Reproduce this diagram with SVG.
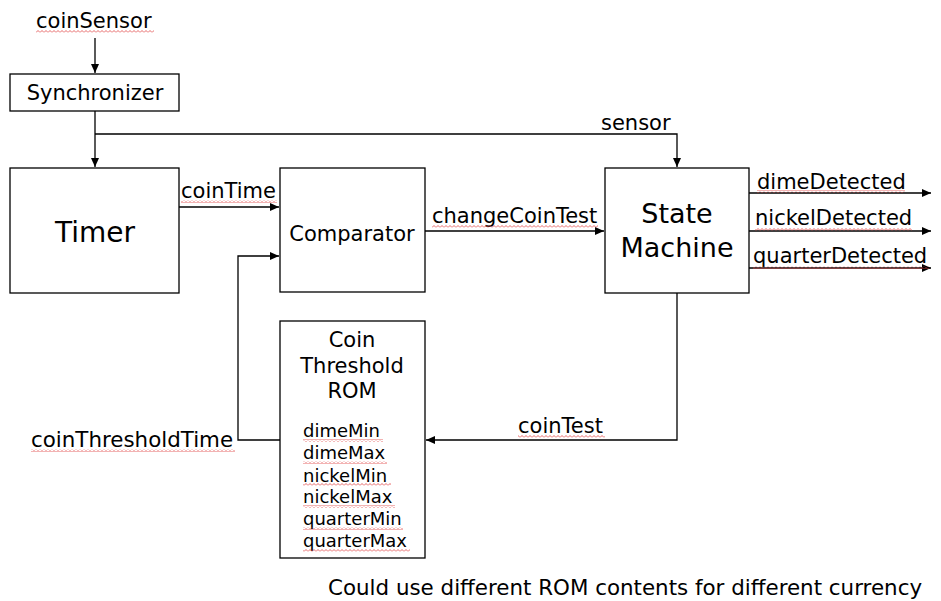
<svg xmlns="http://www.w3.org/2000/svg" width="941" height="601" viewBox="0 0 941 601">
<style>
text{font-family:"DejaVu Sans","Verdana",sans-serif;fill:#000}
.l{font-size:21px}
.s{font-size:18px}
.c{text-anchor:middle}
.box{fill:#fff;stroke:#000;stroke-width:1.3}
.w{fill:none;stroke:#000;stroke-width:1.3}
.sq{fill:url(#squig)}
</style>
<defs>
<marker id="ah" markerUnits="userSpaceOnUse" markerWidth="10" markerHeight="8" refX="9" refY="4" orient="auto">
<path d="M0,0 L9,4 L0,8 Z" fill="#000"/>
</marker>
<pattern id="squig" patternUnits="userSpaceOnUse" width="4" height="3">
<path d="M0,2.5 L2,0.5 L4,2.5" fill="none" stroke="#e04040" stroke-width="0.8"/>
</pattern>
</defs>
<rect width="941" height="601" fill="#fff"/>
<g id="connectors">
<path class="w" d="M95,38 V73" marker-end="url(#ah)"/>
<path class="w" d="M95,111 V167" marker-end="url(#ah)"/>
<path class="w" d="M95,134 H677 V167" marker-end="url(#ah)"/>
<path class="w" d="M179,207 H279" marker-end="url(#ah)"/>
<path class="w" d="M280,440 H238 V256 H279" marker-end="url(#ah)"/>
<path class="w" d="M425,231 H604" marker-end="url(#ah)"/>
<path class="w" d="M749,193 H931" marker-end="url(#ah)"/>
<path class="w" d="M749,231 H931" marker-end="url(#ah)"/>
<path class="w" d="M749,268 H931" marker-end="url(#ah)"/>
<path class="w" d="M677,293 V440 H426" marker-end="url(#ah)"/>
</g>
<g id="labels">
<text class="l" x="36" y="28">coinSensor</text>
<rect class="sq" x="36" y="30" width="118" height="3"/>
<text class="l" x="601" y="130">sensor</text>
<text class="l" x="181" y="198">coinTime</text>
<rect class="sq" x="181" y="200" width="96" height="3"/>
<text class="l" x="432" y="223">changeCoinTest</text>
<rect class="sq" x="432" y="225" width="166" height="3"/>
<text class="l" x="757" y="189">dimeDetected</text>
<rect class="sq" x="757" y="190" width="148" height="3"/>
<text class="l" x="755" y="225">nickelDetected</text>
<rect class="sq" x="755" y="228" width="157" height="3"/>
<text class="l" x="753" y="263">quarterDetected</text>
<rect class="sq" x="753" y="266" width="176" height="3"/>
<text class="l" x="518" y="433">coinTest</text>
<rect class="sq" x="518" y="435" width="87" height="3"/>
<text x="31" y="447" style="font-size:21.4px">coinThresholdTime</text>
<rect class="sq" x="31" y="449" width="204" height="3"/>
<text x="328" y="595" style="font-size:21.4px">Could use different ROM contents for different currency</text>
</g>
<g id="synchronizer">
<rect class="box" x="10" y="74" width="169" height="37"/>
<text class="l c" x="95" y="100">Synchronizer</text>
</g>
<g id="timer">
<rect class="box" x="10" y="168" width="169" height="125"/>
<text class="c" x="95" y="242" font-size="28">Timer</text>
</g>
<g id="comparator">
<rect class="box" x="280" y="168" width="145" height="124"/>
<text class="l c" x="352" y="241">Comparator</text>
</g>
<g id="state-machine">
<rect class="box" x="605" y="168" width="144" height="125"/>
<text class="c" x="677" y="223" font-size="27">State</text>
<text class="c" x="677" y="257" font-size="27">Machine</text>
</g>
<g id="rom">
<rect class="box" x="280" y="321" width="145" height="237"/>
<text class="l c" x="352" y="347">Coin</text>
<text class="l c" x="352" y="373">Threshold</text>
<text class="l c" x="352" y="398">ROM</text>
<text class="s" x="303" y="437">dimeMin</text>
<rect class="sq" x="303" y="439" width="80" height="3"/>
<text class="s" x="303" y="459">dimeMax</text>
<rect class="sq" x="303" y="461" width="84" height="3"/>
<text class="s" x="303" y="482">nickelMin</text>
<rect class="sq" x="303" y="483" width="88" height="3"/>
<text class="s" x="303" y="503">nickelMax</text>
<rect class="sq" x="303" y="505" width="92" height="3"/>
<text class="s" x="303" y="525">quarterMin</text>
<rect class="sq" x="303" y="527" width="100" height="3"/>
<text class="s" x="303" y="547">quarterMax</text>
<rect class="sq" x="303" y="549" width="107" height="3"/>
</g>
</svg>
